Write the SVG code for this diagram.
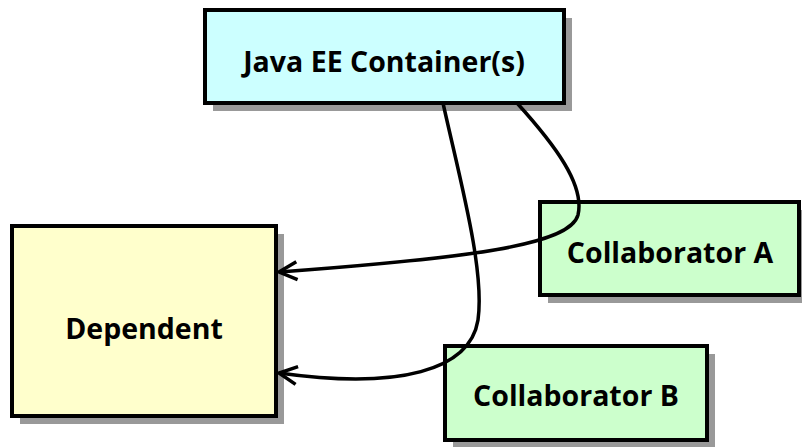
<svg xmlns="http://www.w3.org/2000/svg" width="802" height="447" viewBox="0 0 802 447">
<style>
.shadow{fill:#999999;stroke:none}
.box{stroke:#000;stroke-width:4}
.lbl{font-family:"Open Sans","Liberation Sans",sans-serif;font-weight:700;font-size:28.5px;fill:#000;text-anchor:middle}
.conn{fill:none;stroke:#000;stroke-width:3.5;marker-end:url(#arr)}
</style>
<defs>
<marker id="arr" markerWidth="24" markerHeight="24" refX="20" refY="10" orient="auto" markerUnits="userSpaceOnUse" overflow="visible">
<path d="M2,1 L20,10 L2,19" fill="none" stroke="#000" stroke-width="3.5"/>
</marker>
</defs>
<rect width="802" height="447" fill="#fff"/>
<g id="node-javaee">
<rect class="shadow" x="213" y="18" width="359" height="93"/>
<rect class="box" x="205" y="10" width="359" height="93" fill="#CCFFFF"/>
<text class="lbl" x="384" y="72">Java EE Container(s)</text>
</g>
<g id="node-dependent">
<rect class="shadow" x="20" y="234" width="264" height="190"/>
<rect class="box" x="12" y="226" width="264" height="190" fill="#FFFFCC"/>
<text class="lbl" x="144" y="339">Dependent</text>
</g>
<g id="node-collabA">
<rect class="shadow" x="548" y="210" width="259" height="93"/>
<rect class="box" x="540" y="202" width="259" height="93" fill="#CCFFCC"/>
<text class="lbl" x="670" y="263">Collaborator A</text>
</g>
<g id="node-collabB">
<rect class="shadow" x="453" y="354" width="262" height="94"/>
<rect class="box" x="445" y="346" width="262" height="94" fill="#CCFFCC"/>
<text class="lbl" x="576" y="406">Collaborator B</text>
</g>
<g id="connectors">
<path class="conn" d="M517,103 C555,145 585,185 578,215 C570,245 470,258 279,272"/>
<path class="conn" d="M443,103 C460,180 485,270 478,320 C470,370 400,390 279,373"/>
</g>
</svg>
